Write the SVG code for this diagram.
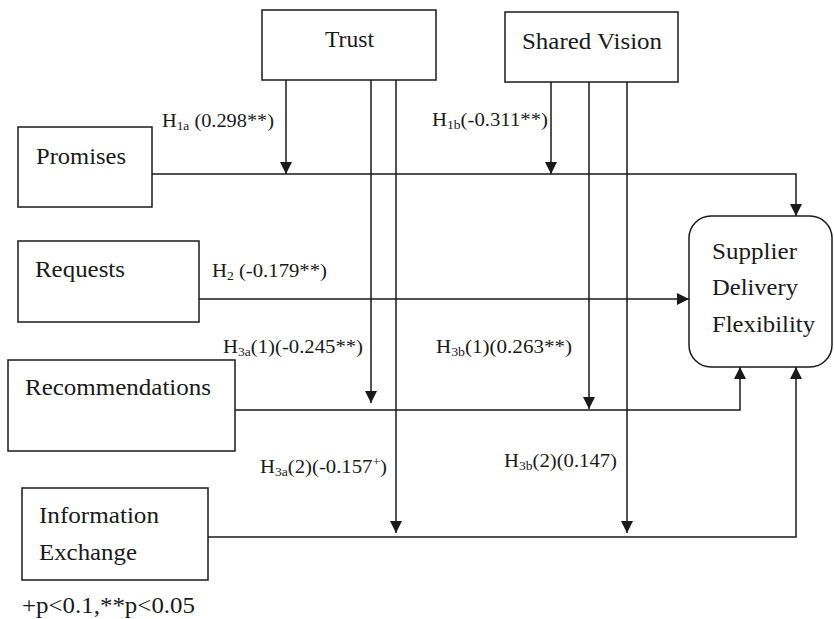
<svg xmlns="http://www.w3.org/2000/svg" width="834" height="619" viewBox="0 0 834 619">
<defs>
<marker id="ah" markerUnits="userSpaceOnUse" markerWidth="12" markerHeight="12" refX="12" refY="6" orient="auto">
<path d="M0,0 L12,6 L0,12 z" fill="#1a1a1a"/>
</marker>
<style>
.box{fill:#fff;stroke:#1a1a1a;stroke-width:1.5}
.ln{fill:none;stroke:#1a1a1a;stroke-width:1.5}
.t{font-family:'Liberation Serif','Times New Roman',serif;font-size:23px;fill:#1a1a1a}
.e{font-family:'Liberation Serif','Times New Roman',serif;font-size:19px;fill:#1a1a1a}
.s{font-size:12.5px}
</style>
</defs>
<rect width="834" height="619" fill="#fff"/>
<g id="connectors">
<path class="ln" d="M286,80 V174" marker-end="url(#ah)"/>
<path class="ln" d="M371,80 V403" marker-end="url(#ah)"/>
<path class="ln" d="M396,80 V533" marker-end="url(#ah)"/>
<path class="ln" d="M551,82 V174" marker-end="url(#ah)"/>
<path class="ln" d="M589,82 V409" marker-end="url(#ah)"/>
<path class="ln" d="M627,82 V533" marker-end="url(#ah)"/>
<path class="ln" d="M152,174 H796 V216" marker-end="url(#ah)"/>
<path class="ln" d="M199,299 H689" marker-end="url(#ah)"/>
<path class="ln" d="M235,410 H740 V367" marker-end="url(#ah)"/>
<path class="ln" d="M208,537 H796 V367" marker-end="url(#ah)"/>
</g>
<g id="trust">
<rect class="box" x="262" y="10" width="174" height="70"/>
<text class="t" x="325" y="47" textLength="49" lengthAdjust="spacingAndGlyphs">Trust</text>
</g>
<g id="shared-vision">
<rect class="box" x="505" y="12" width="173" height="70"/>
<text class="t" x="522" y="49" textLength="140" lengthAdjust="spacingAndGlyphs">Shared Vision</text>
</g>
<g id="promises">
<rect class="box" x="18" y="127" width="134" height="80"/>
<text class="t" x="36" y="164" textLength="90" lengthAdjust="spacingAndGlyphs">Promises</text>
</g>
<g id="requests">
<rect class="box" x="18" y="241" width="181" height="81"/>
<text class="t" x="35" y="277" textLength="90" lengthAdjust="spacingAndGlyphs">Requests</text>
</g>
<g id="recommendations">
<rect class="box" x="8" y="360" width="227" height="91"/>
<text class="t" x="25" y="395" textLength="186" lengthAdjust="spacingAndGlyphs">Recommendations</text>
</g>
<g id="information-exchange">
<rect class="box" x="22" y="488" width="186" height="92"/>
<text class="t" x="39" y="523" textLength="120" lengthAdjust="spacingAndGlyphs">Information</text>
<text class="t" x="39" y="560" textLength="98" lengthAdjust="spacingAndGlyphs">Exchange</text>
</g>
<g id="supplier-delivery-flexibility">
<rect class="box" x="689" y="216" width="143" height="151" rx="22" ry="22"/>
<text class="t" x="712" y="259" textLength="85" lengthAdjust="spacingAndGlyphs">Supplier</text>
<text class="t" x="712" y="295" textLength="86" lengthAdjust="spacingAndGlyphs">Delivery</text>
<text class="t" x="712" y="332" textLength="103" lengthAdjust="spacingAndGlyphs">Flexibility</text>
</g>
<g id="labels">
<text class="e" x="162" y="127" textLength="112" lengthAdjust="spacingAndGlyphs">H<tspan class="s" dy="3">1a</tspan><tspan dy="-3"> (0.298**)</tspan></text>
<text class="e" x="432" y="126" textLength="116" lengthAdjust="spacingAndGlyphs">H<tspan class="s" dy="3">1b</tspan><tspan dy="-3">(-0.311**)</tspan></text>
<text class="e" x="212" y="277" textLength="115" lengthAdjust="spacingAndGlyphs">H<tspan class="s" dy="3">2</tspan><tspan dy="-3"> (-0.179**)</tspan></text>
<text class="e" x="223" y="353" textLength="140" lengthAdjust="spacingAndGlyphs">H<tspan class="s" dy="3">3a</tspan><tspan dy="-3">(1)(-0.245**)</tspan></text>
<text class="e" x="436" y="353" textLength="136" lengthAdjust="spacingAndGlyphs">H<tspan class="s" dy="3">3b</tspan><tspan dy="-3">(1)(0.263**)</tspan></text>
<text class="e" x="260" y="473" textLength="127" lengthAdjust="spacingAndGlyphs">H<tspan class="s" dy="3">3a</tspan><tspan dy="-3">(2)(-0.157</tspan><tspan class="s" dy="-7">+</tspan><tspan dy="7">)</tspan></text>
<text class="e" x="504" y="467" textLength="113" lengthAdjust="spacingAndGlyphs">H<tspan class="s" dy="3">3b</tspan><tspan dy="-3">(2)(0.147)</tspan></text>
<text class="t" x="22" y="613" textLength="173" lengthAdjust="spacingAndGlyphs">+p&lt;0.1,**p&lt;0.05</text>
</g>
</svg>
